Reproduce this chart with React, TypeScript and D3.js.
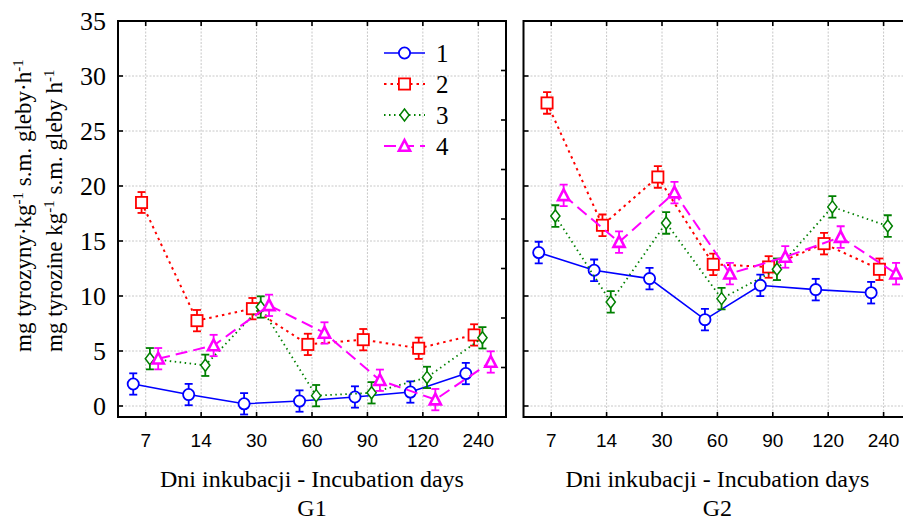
import React from 'react';
import * as d3 from 'd3';

const days = ['7', '14', '30', '60', '90', '120', '240'];
const yTicks = [0, 5, 10, 15, 20, 25, 30, 35];
const seriesNames = ['1', '2', '3', '4'];

const g1s1 = [2.0, 1.04, 0.2, 0.45, 0.82, 1.27, 2.95];
const g1s2 = [18.5, 7.76, 8.85, 5.6, 6.03, 5.25, 6.46];
const g1s3 = [4.3, 3.7, 9.0, 0.94, 1.2, 2.6, 6.2];
const g1s4 = [4.3, 5.5, 9.15, 6.64, 2.34, 0.58, 4.0];

const g2s1 = [13.95, 12.34, 11.58, 7.85, 10.97, 10.58, 10.3];
const g2s2 = [27.55, 16.43, 20.82, 12.88, 12.64, 14.76, 12.43];
const g2s3 = [17.27, 9.46, 16.64, 9.76, 12.43, 18.1, 16.36];
const g2s4 = [19.15, 14.9, 19.4, 12.03, 13.55, 15.36, 12.03];

const g1err = [
  [0.97, 0.97, 0.97, 0.97, 0.97, 0.97, 0.97],
  [0.95, 0.97, 0.97, 0.97, 0.97, 0.97, 0.97],
  [0.97, 0.97, 0.97, 0.97, 0.97, 0.97, 0.97],
  [0.97, 0.97, 0.97, 0.97, 0.97, 0.97, 0.97],
];
const g2err = [
  [0.98, 0.98, 0.98, 0.98, 0.98, 0.98, 0.98],
  [0.98, 0.98, 0.98, 0.98, 0.98, 0.98, 0.98],
  [0.98, 0.98, 0.98, 0.98, 0.98, 0.98, 0.98],
  [0.98, 0.98, 0.98, 0.98, 0.98, 0.98, 0.98],
];

const colors = ['#0000ff', '#ff0000', '#008000', '#ff00ff'];
const dashes = [null, '2.5,4', '1.5,3.5', '12,6'];
const lineWidths = [1.6, 2, 1.8, 2];
const offsets = [-0.225, -0.075, 0.075, 0.225];

const W = 903;
const H = 520;
const top = 21;
const bottom = 417;
const panels = [
  { name: 'G1', left: 118, right: 506, data: [g1s1, g1s2, g1s3, g1s4], err: g1err },
  { name: 'G2', left: 523.5, right: 911.3, data: [g2s1, g2s2, g2s3, g2s4], err: g2err },
];

const y = d3.scaleLinear().domain([-1, 35]).range([bottom, top]);
const serif = "'Liberation Serif', 'Times New Roman', Times, serif";
const sans = "'Liberation Sans Narrow', 'Liberation Sans', Arial, sans-serif";

function Marker({ i, x, yy }: { i: number; x: number; yy: number }) {
  const c = colors[i];
  if (i === 0) return <circle cx={x} cy={yy} r={5.6} fill="#fff" stroke={c} strokeWidth={1.8} />;
  if (i === 1) return <rect x={x - 5.6} y={yy - 5.6} width={11.2} height={11.2} fill="#fff" stroke={c} strokeWidth={1.8} />;
  if (i === 2)
    return (
      <path d={`M${x},${yy - 6} L${x + 4.6},${yy} L${x},${yy + 6} L${x - 4.6},${yy} Z`} fill="#fff" stroke={c} strokeWidth={1.5} />
    );
  return (
    <path d={`M${x},${yy - 6} L${x + 5.6},${yy + 4.8} L${x - 5.6},${yy + 4.8} Z`} fill="#fff" stroke={c} strokeWidth={2.6} />
  );
}

function Panel({ p }: { p: typeof panels[0] }) {
  const x = d3.scaleLinear().domain([-0.5, 6.5]).range([p.left, p.right]);
  const rightTicks = d3.range(1, 8).map((k) => top + (k * (bottom - top)) / 8);
  const cx = (p.left + p.right) / 2;
  const clipId = 'clip' + p.name;
  return (
    <g>
      <defs>
        <clipPath id={clipId}>
          <rect x={p.left} y={top} width={p.right - p.left} height={bottom - top} />
        </clipPath>
      </defs>
      <g stroke="#c8c8c8" strokeWidth={1} strokeDasharray="2,1.5">
        {yTicks.map((t) => (
          <line key={'h' + t} x1={p.left} x2={p.right} y1={y(t)} y2={y(t)} />
        ))}
        {days.map((d, i) => (
          <line key={'v' + d} x1={x(i)} x2={x(i)} y1={top} y2={bottom} />
        ))}
      </g>
      <g stroke="#000" strokeWidth={1.6}>
        {yTicks.map((t) => (
          <line key={'lt' + t} x1={p.left} x2={p.left + 5} y1={y(t)} y2={y(t)} />
        ))}
        {p.name === 'G1' &&
          rightTicks.map((t, k) => <line key={'rt' + k} x1={p.right - 5} x2={p.right} y1={t} y2={t} />)}
        {days.map((d, i) => (
          <g key={'xt' + d}>
            <line x1={x(i)} x2={x(i)} y1={top} y2={top + 5} />
            <line x1={x(i)} x2={x(i)} y1={bottom} y2={bottom - 5} />
          </g>
        ))}
      </g>
      <g clipPath={`url(#${clipId})`}>
        {p.data.map((vals, si) => {
          const line = d3
            .line<number>()
            .x((_, i) => x(i + offsets[si]))
            .y((v) => y(v));
          return (
            <g key={'s' + si}>
              <path
                d={line(vals) || ''}
                fill="none"
                stroke={colors[si]}
                strokeWidth={lineWidths[si]}
                strokeDasharray={dashes[si] || undefined}
              />
              {vals.map((v, i) => {
                const xx = x(i + offsets[si]);
                const e = p.err[si][i];
                return (
                  <g key={'e' + i} stroke={colors[si]} strokeWidth={1.8}>
                    <line x1={xx} x2={xx} y1={y(v + e)} y2={y(v - e)} />
                    <line x1={xx - 4} x2={xx + 4} y1={y(v + e)} y2={y(v + e)} />
                    <line x1={xx - 4} x2={xx + 4} y1={y(v - e)} y2={y(v - e)} />
                  </g>
                );
              })}
              {vals.map((v, i) => (
                <Marker key={'m' + i} i={si} x={x(i + offsets[si])} yy={y(v)} />
              ))}
            </g>
          );
        })}
      </g>
      <rect x={p.left} y={top} width={p.right - p.left} height={bottom - top} fill="none" stroke="#000" strokeWidth={2} />
      {days.map((d, i) => (
        <text key={'xl' + d} x={x(i)} y={447} textAnchor="middle" style={{ fontFamily: sans, fontSize: 19 }}>
          {d}
        </text>
      ))}
      <text x={cx} y={487} textAnchor="middle" style={{ fontFamily: serif, fontSize: 24 }}>
        Dni inkubacji - Incubation days
      </text>
      <text x={cx} y={516} textAnchor="middle" style={{ fontFamily: serif, fontSize: 24 }}>
        {p.name}
      </text>
    </g>
  );
}

export default function App() {
  const legendY = [53, 84, 115, 146];
  return (
    <svg width={W} height={H} style={{ position: 'absolute', left: 0, top: 0, background: '#fff' }}>
      <rect width={W} height={H} fill="#fff" />
      {panels.map((p) => (
        <Panel key={p.name} p={p} />
      ))}
      {yTicks.map((t) => (
        <text key={'yl' + t} x={106} y={y(t)} dy="0.35em" textAnchor="end" style={{ fontFamily: serif, fontSize: 26 }}>
          {t}
        </text>
      ))}
      <g transform="rotate(-90)" style={{ fontFamily: serif, fontSize: 23 }}>
        <text x={-352} y={31}>
          mg tyrozyny·kg
          <tspan baselineShift="super" style={{ fontSize: 15 }}>-1</tspan>
          {'  s.m. gleby·h'}
          <tspan baselineShift="super" style={{ fontSize: 15 }}>-1</tspan>
        </text>
        <text x={-352} y={62}>
          mg tyrozine kg
          <tspan baselineShift="super" style={{ fontSize: 15 }}>-1</tspan>
          {' s.m. gleby h'}
          <tspan baselineShift="super" style={{ fontSize: 15 }}>-1</tspan>
        </text>
      </g>
      {seriesNames.map((n, i) => (
        <g key={'lg' + n}>
          <line
            x1={384}
            x2={425}
            y1={legendY[i]}
            y2={legendY[i]}
            stroke={colors[i]}
            strokeWidth={lineWidths[i]}
            strokeDasharray={dashes[i] || undefined}
          />
          <Marker i={i} x={404.5} yy={legendY[i]} />
          <text x={436} y={legendY[i]} dy="0.35em" style={{ fontFamily: serif, fontSize: 25 }}>
            {n}
          </text>
        </g>
      ))}
    </svg>
  );
}
